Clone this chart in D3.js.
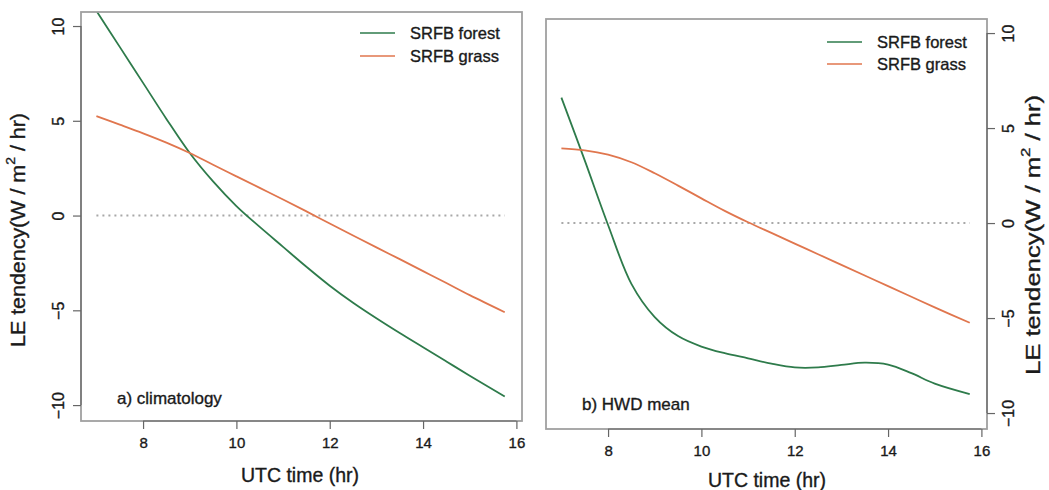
<!DOCTYPE html>
<html>
<head>
<meta charset="utf-8">
<script src="https://cdn.jsdelivr.net/npm/d3@7"></script>
<style>
body{margin:0;background:#fff}
text{font-family:"Liberation Sans",Arial,Helvetica,sans-serif;fill:#1a1a1a;stroke:#1a1a1a;stroke-width:0.35px}
</style>
</head>
<body>
<div id="chart"></div>
<script>
// data
const hours=[7,7.5,8,8.5,9,9.5,10,10.5,11,11.5,12,12.5,13,13.5,14,14.5,15,15.75]
const climForest=[10.8,8.9,7.0,5.1,3.3,1.8,0.5,-0.6,-1.65,-2.7,-3.7,-4.6,-5.42,-6.2,-6.95,-7.7,-8.45,-9.55]
const climGrass=[5.25,4.8,4.34,3.85,3.3,2.68,2.07,1.46,0.85,0.22,-0.42,-1.05,-1.68,-2.3,-2.93,-3.56,-4.2,-5.1]
const hwdForest=[6.6,3.3,-0.1,-3.2,-4.95,-5.95,-6.5,-6.85,-7.12,-7.4,-7.6,-7.6,-7.47,-7.35,-7.45,-7.9,-8.45,-9.0]
const hwdGrass=[3.93,3.83,3.6,3.2,2.62,1.97,1.3,0.64,0.04,-0.52,-1.08,-1.64,-2.2,-2.76,-3.32,-3.88,-4.44,-5.25]
const seriesNames=['SRFB forest','SRFB grass']
const panelLabels=['a) climatology','b) HWD mean']
const xTicks=[8,10,12,14,16]
const yTicks=[-10,-5,0,5,10]
const zeroRange=[7,15.75]

const colors=['#2e7b4b','#e0764e']
const W=1049,H=490

const svg=d3.select('#chart').append('svg')
	.attr('width',W)
	.attr('height',H)

function drawPanel(p){
	const xScale=d3.scaleLinear()
		.domain([6.67,16.12])
		.range([p.left,p.right])
	const yScale=d3.scaleLinear()
		.domain([-10.84,10.74])
		.range([p.bottom,p.top])

	const g=svg.append('g')

	g.append('clipPath')
		.attr('id','clip'+p.id)
		.append('rect')
		.attr('x',p.left).attr('y',p.top)
		.attr('width',p.right-p.left).attr('height',p.bottom-p.top)

	// zero line
	g.append('line')
		.attr('x1',xScale(zeroRange[0])).attr('x2',xScale(zeroRange[1]))
		.attr('y1',yScale(0)).attr('y2',yScale(0))
		.attr('stroke','#a8a8a8')
		.attr('stroke-width',2)
		.attr('stroke-dasharray','2,4')

	const line=d3.line()
		.x((d,i)=>xScale(hours[i]))
		.y(d=>yScale(d))
		.curve(d3.curveCatmullRom.alpha(0.5))

	g.selectAll('.series')
		.data(p.series)
		.enter()
		.append('path')
		.attr('class','series')
		.attr('clip-path','url(#clip'+p.id+')')
		.attr('d',line)
		.attr('fill','none')
		.attr('stroke',(d,i)=>colors[i])
		.attr('stroke-width',1.8)

	// box
	g.append('rect')
		.attr('x',p.left).attr('y',p.top)
		.attr('width',p.right-p.left).attr('height',p.bottom-p.top)
		.attr('fill','none')
		.attr('stroke','#a0a0a0')
		.attr('stroke-width',1.8)

	const xAxis=d3.axisBottom(xScale)
		.tickValues(xTicks)
		.tickSize(8)
		.tickPadding(8)
		.tickFormat(d3.format('d'))
	const xg=g.append('g')
		.attr('transform',`translate(0,${p.bottom})`)
		.call(xAxis)
	xg.select('.domain')
		.attr('d',`M${xScale(xTicks[0])},0H${xScale(xTicks[xTicks.length-1])}`)

	const yAxis=(p.side==='left'?d3.axisLeft(yScale):d3.axisRight(yScale))
		.tickValues(yTicks)
		.tickSize(8)
	const yx=p.side==='left'?p.left:p.right
	const yg=g.append('g')
		.attr('transform',`translate(${yx},0)`)
		.call(yAxis)
	yg.select('.domain')
		.attr('d',`M0,${yScale(yTicks[0])}V${yScale(yTicks[yTicks.length-1])}`)

	for(const a of [xg,yg]){
		a.selectAll('.domain,.tick line')
			.attr('stroke','#666')
			.attr('stroke-width',1.2)
		a.selectAll('.tick text')
			.style('font-family','"Liberation Sans",Arial,sans-serif')
			.style('font-size','15px')
			.attr('fill','#1a1a1a')
	}
	yg.selectAll('.tick text')
		.attr('x',0)
		.attr('y',p.side==='left'?-23:21)
		.attr('dy','0.35em')
		.attr('text-anchor','middle')
		.attr('transform','rotate(-90)')
		.style('font-size','16px')

	// axis titles
	g.append('text')
		.attr('x',p.xTitle[0]).attr('y',p.xTitle[1])
		.attr('text-anchor','middle')
		.attr('dominant-baseline','central')
		.style('font-size','19.5px')
		.text('UTC time (hr)')

	const yt=g.append('text')
		.attr('transform',`translate(${p.yTitle[0]},${p.yTitle[1]}) rotate(-90)`)
		.attr('text-anchor','middle')
		.attr('dominant-baseline','central')
		.attr('textLength',p.yTitleLen)
		.attr('lengthAdjust','spacingAndGlyphs')
		.style('font-size','20px')
	yt.append('tspan').text('LE tendency(W / m')
	yt.append('tspan').attr('baseline-shift','super').style('font-size','13px').text('2')
	yt.append('tspan').attr('baseline-shift','0').text(' / hr)')

	// legend
	const lg=g.append('g')
		.attr('transform',`translate(${p.legend[0]},${p.legend[1]})`)
	seriesNames.forEach((name,i)=>{
		lg.append('line')
			.attr('x1',0).attr('x2',35)
			.attr('y1',i*p.legendStep).attr('y2',i*p.legendStep)
			.attr('stroke',colors[i])
			.attr('stroke-opacity',0.75)
			.attr('stroke-width',2.2)
		lg.append('text')
			.attr('x',50).attr('y',i*p.legendStep)
			.attr('dominant-baseline','central')
			.style('font-size','16.5px')
			.text(name)
	})

	g.append('text')
		.attr('x',p.label[0]).attr('y',p.label[1])
		.style('font-size','17px')
		.text(p.labelText)
}

drawPanel({id:'a',side:'left',left:81,right:522,top:12,bottom:421,
	series:[climForest,climGrass],labelText:panelLabels[0],label:[117,404],
	legend:[360,33],legendStep:23,xTitle:[300,475],yTitle:[18,230],yTitleLen:234})
drawPanel({id:'b',side:'right',left:546,right:987,top:19,bottom:429,
	series:[hwdForest,hwdGrass],labelText:panelLabels[1],label:[582,410],
	legend:[827,42],legendStep:22,xTitle:[767,480],yTitle:[1033,235],yTitleLen:280})
</script>
</body>
</html>
